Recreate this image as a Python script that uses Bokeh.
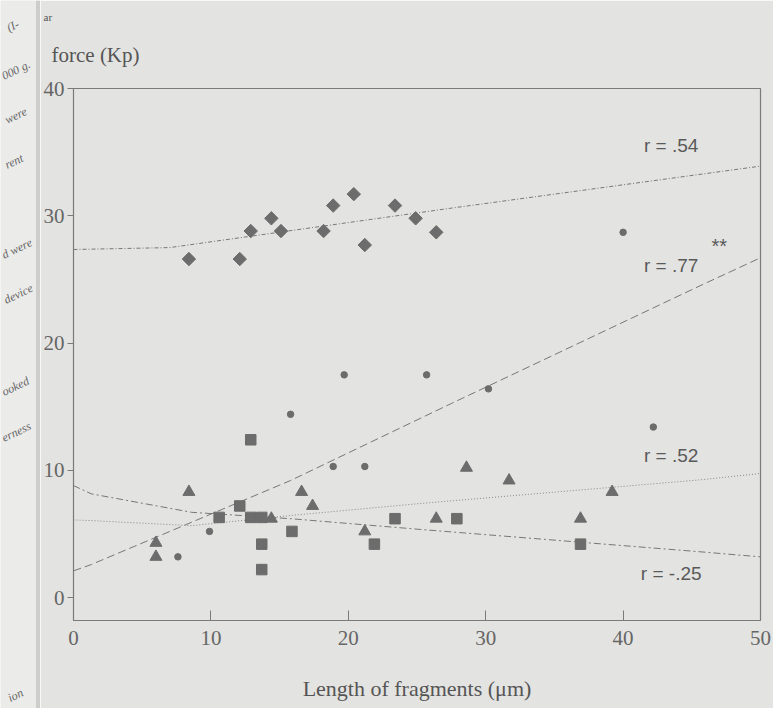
from bokeh.plotting import figure
from bokeh.models import Label, FixedTicker, Range1d, ColumnDataSource, Title, Span
from bokeh.layouts import row
from bokeh.core.properties import value
from bokeh.embed import file_html
from bokeh.resources import INLINE

# ---- data ----
diamond_x = [8.4, 12.1, 12.9, 14.4, 15.1, 18.2, 18.9, 20.4, 21.2, 23.4, 24.9, 26.4]
diamond_y = [26.6, 26.6, 28.8, 29.8, 28.8, 28.8, 30.8, 31.7, 27.7, 30.8, 29.8, 28.7]

circle_x = [7.6, 9.9, 15.8, 18.9, 21.2, 19.7, 25.7, 30.2, 40.0, 42.2]
circle_y = [3.2, 5.2, 14.4, 10.3, 10.3, 17.5, 17.5, 16.4, 28.7, 13.4]

square_x = [12.9, 12.1, 10.6, 12.9, 13.7, 13.7, 13.7, 15.9, 21.9, 23.4, 27.9, 36.9]
square_y = [12.4, 7.2, 6.3, 6.3, 6.3, 4.2, 2.2, 5.2, 4.2, 6.2, 6.2, 4.2]

triangle_x = [6.0, 6.0, 8.4, 14.4, 16.6, 17.4, 21.2, 26.4, 28.6, 31.7, 36.9, 39.2]
triangle_y = [4.3, 3.2, 8.3, 6.2, 8.3, 7.2, 5.2, 6.2, 10.2, 9.2, 6.2, 8.3]

fit54_x = [0, 7, 27.5, 50]
fit54_y = [27.35, 27.5, 30.6, 33.9]
fit77_x = [0, 1.3, 15.8, 27.5, 45.6, 50]
fit77_y = [2.1, 2.6, 9.2, 15.25, 24.5, 26.7]
fit52_x = [0, 1.3, 8.6, 15.8, 25.3, 45.6, 50]
fit52_y = [6.1, 6.05, 5.65, 6.45, 7.4, 9.25, 9.75]
fit25_x = [0, 1.3, 8.6, 15.8, 25.3, 45.6, 50]
fit25_y = [8.8, 8.15, 6.7, 6.2, 5.35, 3.6, 3.2]

r_texts = ["r = .54", "r = .77", "r = .52", "r = -.25"]
r_x = [43.5, 43.5, 43.5, 43.5]
r_y = [35.5, 26.1, 11.2, 1.9]
sig_text = "**"
sig_x, sig_y = 47.0, 27.6

x_ticks = [0, 10, 20, 30, 40, 50]
y_ticks = [0, 10, 20, 30, 40]
x_title = "Length of fragments (\u03bcm)"
y_title_head = "ar"
y_title = "force (Kp)"

# fragments of the neighbouring page visible on the scan's left edge
margin_texts = ["(I-", "000 g.", "were", "rent", "d were", "device", "ooked", "erness", "ion"]
margin_px = [7, 2, 5, 5, 2, 4, 2, 2, 8]
margin_py = [28, 76, 120, 165, 255, 300, 392, 438, 698]

BG = "#e3e3e1"
INK = "#6c6c6c"
TXT = "#5a5a5a"

# ---- left strip: edge of the facing page ----
strip = figure(width=40, height=708, x_range=Range1d(0, 40), y_range=Range1d(708, 0),
               output_backend="svg", toolbar_location=None, title=None,
               x_axis_location=None, y_axis_location=None,
               min_border=0, min_border_left=0, min_border_right=0,
               min_border_top=0, min_border_bottom=0)
strip.frame_align = False
strip.background_fill_color = "#ebebea"
strip.border_fill_color = "#ebebea"
strip.outline_line_color = None
strip.xgrid.visible = False
strip.ygrid.visible = False
msrc = ColumnDataSource(dict(x=margin_px, y=margin_py, t=margin_texts))
strip.text(x="x", y="y", text="t", source=msrc, text_font=value("Liberation Serif"),
           text_font_style="italic", text_font_size="12px", text_color="#666666",
           angle=0.45, text_align="left", text_baseline="middle")
strip.add_layout(Span(location=38, dimension="height", line_color="#cdcdcb", line_width=5))

# ---- main chart ----
p = figure(width=733, height=708, x_range=Range1d(0, 50), y_range=Range1d(-1.8, 40),
           output_backend="svg", toolbar_location=None,
           min_border_left=32, min_border_right=13, min_border_top=88, min_border_bottom=88)
p.frame_align = False
p.background_fill_color = BG
p.border_fill_color = BG
p.outline_line_color = "#7a7a7a"
p.outline_line_width = 1.2
p.xgrid.visible = False
p.ygrid.visible = False

# y title (top-left, as on the scan); the added title sits next to the frame
p.title.text = y_title_head
p.title.align = "left"
p.title.offset = -30
p.title.standoff = -8
p.title.text_font = "Liberation Serif"
p.title.text_font_size = "11px"
p.title.text_font_style = "normal"
p.title.text_color = "#555555"
p.add_layout(Title(text=y_title, align="left", offset=-22, standoff=44,
                   text_font="Liberation Serif", text_font_size="21px",
                   text_font_style="normal", text_color="#555555"), "above")

# axes
p.xaxis.ticker = FixedTicker(ticks=x_ticks)
p.yaxis.ticker = FixedTicker(ticks=y_ticks)
for ax in (p.xaxis[0], p.yaxis[0]):
    ax.axis_line_color = None
    ax.minor_tick_line_color = None
    ax.major_tick_line_color = "#7a7a7a"
    ax.major_label_text_font = "Liberation Serif"
    ax.major_label_text_font_size = "21px"
    ax.major_label_text_color = "#666666"
p.xaxis.major_tick_in = 10
p.xaxis.major_tick_out = 0
p.xaxis.major_label_standoff = 10
p.yaxis.major_tick_in = 0
p.yaxis.major_tick_out = 6
p.yaxis.major_label_standoff = 3
p.xaxis.axis_label = x_title
p.xaxis.axis_label_text_font = "Liberation Serif"
p.xaxis.axis_label_text_font_size = "22px"
p.xaxis.axis_label_text_font_style = "normal"
p.xaxis.axis_label_text_color = "#555555"
p.xaxis.axis_label_standoff = 28

# fit lines
p.line(fit54_x, fit54_y, line_color="#777777", line_width=1, line_dash="4 2 1 2")
p.line(fit77_x, fit77_y, line_color="#777777", line_width=1, line_dash="8 4")
p.line(fit52_x, fit52_y, line_color="#888888", line_width=1, line_dash="1 2")
p.line(fit25_x, fit25_y, line_color="#777777", line_width=1, line_dash="7 3 2 3")

# markers
p.scatter(diamond_x, diamond_y, marker="square", angle=0.785398, size=9.5,
          fill_color=INK, line_color=INK)
p.scatter(square_x, square_y, marker="square", size=10.5, fill_color=INK, line_color=INK)
p.scatter(triangle_x, triangle_y, marker="triangle", size=12, fill_color=INK, line_color=INK)
p.scatter(circle_x, circle_y, marker="circle", size=6.5, fill_color=INK, line_color=INK)

# r labels
src = ColumnDataSource(dict(x=r_x, y=r_y, t=r_texts))
p.text(x="x", y="y", text="t", source=src, text_font=value("Liberation Sans"),
       text_font_size="19px", text_color=TXT, text_align="center", text_baseline="middle")
p.add_layout(Label(x=sig_x, y=sig_y, text=sig_text, text_font="Liberation Sans",
                   text_font_size="20px", text_color=TXT, text_align="center",
                   text_baseline="middle"))

layout = row(strip, p, spacing=0)
open("out.html", "w").write(file_html(layout, INLINE))
